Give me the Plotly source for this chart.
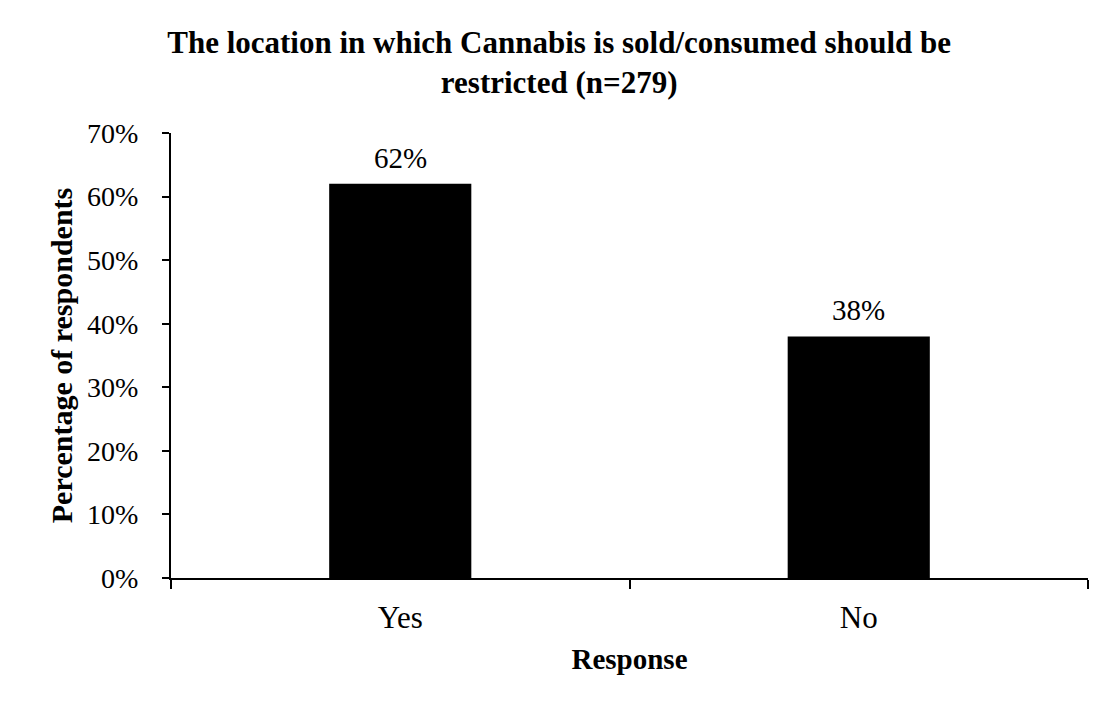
import plotly.graph_objects as go

responses = ["Yes", "No"]
percent = [62, 38]
bar_labels = ["62%", "38%"]
y_ticks = [0, 10, 20, 30, 40, 50, 60, 70]
y_tick_labels = ["0%", "10%", "20%", "30%", "40%", "50%", "60%", "70%"]

SERIF = "Liberation Serif, Times New Roman, serif"

fig = go.Figure()
fig.add_trace(go.Bar(
    x=responses, y=percent,
    marker=dict(color="#000000", line=dict(width=0)),
    showlegend=False,
))

# value labels above the bars
for cat, val, lab in zip(responses, percent, bar_labels):
    fig.add_annotation(
        x=cat, y=val, text=lab, showarrow=False,
        yanchor="bottom", yshift=8,
        font=dict(family=SERIF, size=29, color="#000"),
    )

fig.update_layout(
    width=1109, height=707,
    paper_bgcolor="#ffffff",
    plot_bgcolor="#ffffff",
    margin=dict(l=163, r=29, t=125, b=137, autoexpand=False),
    bargap=0.69,
    title=dict(
        text="<b>The location in which Cannabis is sold/consumed should be<br>restricted (n=279)</b>",
        font=dict(family=SERIF, size=31, color="#000"),
        x=0.497, xanchor="center", y=0.937, yanchor="top",
    ),
    xaxis=dict(
        range=[-0.5, 1.5],
        showline=True, linecolor="#000", linewidth=2,
        ticks="outside", tickson="boundaries", ticklen=9, tickwidth=2, tickcolor="#000",
        tickfont=dict(family=SERIF, size=31, color="#000"),
        ticklabelstandoff=11,
        title=dict(text="<b>Response</b>", font=dict(family=SERIF, size=29, color="#000"), standoff=14),
        showgrid=False, zeroline=False,
    ),
    yaxis=dict(
        range=[0, 70],
        tickvals=y_ticks, ticktext=y_tick_labels,
        showline=True, linecolor="#000", linewidth=2,
        ticks="outside", ticklen=7, tickwidth=2, tickcolor="#000",
        tickfont=dict(family=SERIF, size=28, color="#000"),
        ticklabelstandoff=18,
        title=dict(text="<b>Percentage of respondents</b>", font=dict(family=SERIF, size=30, color="#000"), standoff=6),
        showgrid=False, zeroline=False,
    ),
)

fig.write_html("out.html")
